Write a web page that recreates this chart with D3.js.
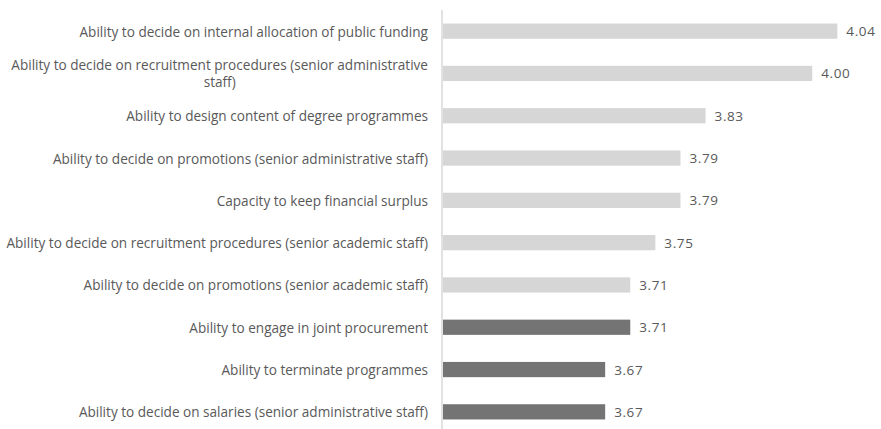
<!DOCTYPE html>
<html>
<head>
<meta charset="utf-8">
<script src="https://cdn.jsdelivr.net/npm/d3@7"></script>
<style>
  html, body { margin: 0; padding: 0; background: #fff; }
  svg { display: block; }
</style>
</head>
<body>
<svg id="chart" width="881" height="429"></svg>
<script>
const categories = [
  "Ability to decide on internal allocation of public funding",
  "Ability to decide on recruitment procedures (senior administrative staff)",
  "Ability to design content of degree programmes",
  "Ability to decide on promotions (senior administrative staff)",
  "Capacity to keep financial surplus",
  "Ability to decide on recruitment procedures (senior academic staff)",
  "Ability to decide on promotions (senior academic staff)",
  "Ability to engage in joint procurement",
  "Ability to terminate programmes",
  "Ability to decide on salaries (senior administrative staff)"
];
const values = [4.04, 4.00, 3.83, 3.79, 3.79, 3.75, 3.71, 3.71, 3.67, 3.67];
// items shown in the darker shade
const highlighted = [
  "Ability to engage in joint procurement",
  "Ability to terminate programmes",
  "Ability to decide on salaries (senior administrative staff)"
];

const svg = d3.select("#chart");
const axisX = 442;
const labelRight = 428;
const wrapWidth = 426;
const fontFamily = "'Open Sans', 'Liberation Sans', sans-serif";
const textColor = "#595959";

const x = d3.scaleLinear().domain([3.41, 4.1]).range([axisX, 875]);
const y = d3.scaleBand().domain(categories).range([10, 433]).paddingInner(0.64).paddingOuter(0.32);

// Fit the label font size so the first label spans the intended width
const probe = svg.append("text").attr("font-family", fontFamily).attr("font-size", 12).text(categories[0]);
const probeW = probe.node().getComputedTextLength();
probe.remove();
const fontSize = 12 * 349 / probeW;

// Bars
svg.append("g").selectAll("rect")
  .data(categories)
  .join("rect")
  .attr("x", axisX + 1)
  .attr("y", d => y(d))
  .attr("width", (d, i) => x(values[i]) - axisX - 1)
  .attr("height", y.bandwidth())
  .attr("fill", d => highlighted.includes(d) ? "#747474" : "#d6d6d6");

// Vertical category axis line
svg.append("line")
  .attr("x1", axisX).attr("x2", axisX)
  .attr("y1", 10).attr("y2", 429)
  .attr("stroke", "#d9d9d9").attr("stroke-width", 1.5);

// Category labels, wrapped when too long; wrapped lines centred within their block
const labelG = svg.append("g")
  .attr("font-family", fontFamily)
  .attr("font-size", fontSize)
  .attr("fill", textColor);

categories.forEach((cat, i) => {
  const cy = y(cat) + y.bandwidth() / 2;
  const t = labelG.append("text").text(cat);
  let w = t.node().getComputedTextLength();
  if (w <= wrapWidth) {
    // squeeze slightly if a single line would run past the left edge
    if (w > labelRight - 4) t.attr("textLength", labelRight - 4).attr("lengthAdjust", "spacingAndGlyphs");
    t.attr("x", labelRight).attr("y", cy).attr("text-anchor", "end").attr("dominant-baseline", "central");
    return;
  }
  const words = cat.split(" ");
  const lines = [];
  let line = [];
  words.forEach(wd => {
    line.push(wd);
    t.text(line.join(" "));
    if (t.node().getComputedTextLength() > wrapWidth && line.length > 1) {
      line.pop();
      lines.push(line.join(" "));
      line = [wd];
    }
  });
  lines.push(line.join(" "));
  let maxW = 0;
  lines.forEach(l => { t.text(l); maxW = Math.max(maxW, t.node().getComputedTextLength()); });
  t.text(null);
  const lh = 17.5;
  const cx = labelRight - maxW / 2;
  lines.forEach((l, k) => {
    t.append("tspan")
      .attr("x", cx)
      .attr("y", cy + (k - (lines.length - 1) / 2) * lh - 0.5)
      .attr("text-anchor", "middle")
      .attr("dominant-baseline", "central")
      .text(l);
  });
});

// Value labels
svg.append("g")
  .attr("font-family", fontFamily)
  .attr("font-size", 13.5)
  .attr("letter-spacing", 0.6)
  .attr("fill", textColor)
  .selectAll("text")
  .data(categories)
  .join("text")
  .attr("x", (d, i) => x(values[i]) + 9)
  .attr("y", d => y(d) + y.bandwidth() / 2)
  .attr("dominant-baseline", "central")
  .text((d, i) => values[i].toFixed(2));
</script>
</body>
</html>
